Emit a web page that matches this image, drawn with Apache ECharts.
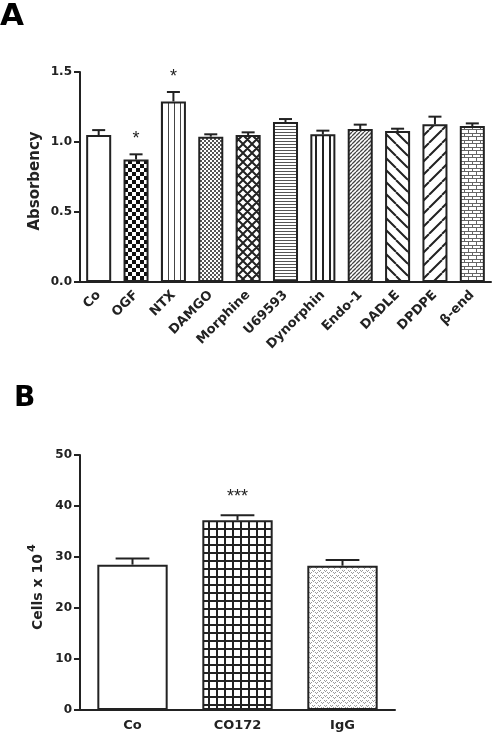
<!DOCTYPE html>
<html><head><meta charset="utf-8">
<script src="https://cdn.jsdelivr.net/npm/echarts@6/dist/echarts.min.js"></script>
<style>html,body{margin:0;padding:0;background:#fff}#c{width:492px;height:735px}</style>
</head><body><div id="c"></div>
<script>
// ---------- DATA ----------
const catsA = ['Co','OGF','NTX','DAMGO','Morphine','U69593','Dynorphin','Endo-1','DADLE','DPDPE','β-end'];
const valsA = [1.05, 0.875, 1.29, 1.038, 1.05, 1.143, 1.055, 1.093, 1.079, 1.126, 1.114];
const errA  = [0.035, 0.037, 0.067, 0.017, 0.019, 0.021, 0.026, 0.031, 0.016, 0.055, 0.019];
const sigA  = ['', '*', '*', '', '', '', '', '', '', '', ''];
const yTicksA = [0, 0.5, 1.0, 1.5];

const catsB = ['Co','CO172','IgG'];
const valsB = [28.5, 37.2, 28.3];
const errB  = [1.2, 1.0, 1.1];
const sigB  = ['', '***', ''];
const yTicksB = [0, 10, 20, 30, 40, 50];

// ---------- PATTERNS ----------
function tile(w,h,fn){const c=document.createElement('canvas');c.width=w;c.height=h;const g=c.getContext('2d');g.fillStyle='#fff';g.fillRect(0,0,w,h);fn(g,w,h);return {image:c,repeat:'repeat'};}
function diag(p,dir,lw,col){return tile(p,p,(g)=>{g.strokeStyle=col;g.lineWidth=lw;g.beginPath();for(let k=-1;k<=1;k++){if(dir==='/'){g.moveTo(k*p,p);g.lineTo(k*p+p,0);}else{g.moveTo(k*p,0);g.lineTo(k*p+p,p);}}g.stroke();});}
const P = {
  white: '#ffffff',
  checker: tile(8,8,g=>{g.fillStyle='#111';g.fillRect(0,0,4,4);g.fillRect(4,4,4,4);}),
  vthin: tile(6,4,g=>{g.fillStyle='#444';g.fillRect(0,0,1,4);}),
  fine: tile(4,4,g=>{g.fillStyle='#555';g.fillRect(0,0,2,2);g.fillRect(2,2,2,2);}),
  cross: tile(9,9,g=>{g.strokeStyle='#222';g.lineWidth=2;g.beginPath();for(let k=-1;k<=1;k++){g.moveTo(k*9,9);g.lineTo(k*9+9,0);g.moveTo(k*9,0);g.lineTo(k*9+9,9);}g.stroke();}),
  hlines: tile(4,3,g=>{g.fillStyle='#555';g.fillRect(0,0,4,1);}),
  vthick: tile(7,4,g=>{g.fillStyle='#222';g.fillRect(0,0,2,4);}),
  fdiagFine: diag(4,'/',1.3,'#444'),
  bdiag: diag(12,'\\',2,'#222'),
  fdiag: diag(13,'/',2,'#222'),
  brick: tile(8,7,g=>{g.fillStyle='#666';g.fillRect(0,0,8,1);g.fillRect(0,3,8,1);g.fillRect(0,0,1,3);g.fillRect(4,3,1,4);}),
  grid: tile(8,8,g=>{g.fillStyle='#222';g.fillRect(0,0,2,8);g.fillRect(0,0,8,2);}),
  dots: tile(6,5,g=>{g.fillStyle='#9a9a9a';g.fillRect(0,0,1,1);g.fillRect(2,0,1,1);g.fillRect(1,1,1,1);g.fillRect(3,2,1,1);g.fillRect(5,2,1,1);g.fillRect(4,3,1,1);})
};
const fillA = [P.white,P.checker,P.vthin,P.fine,P.cross,P.hlines,P.vthick,P.fdiagFine,P.bdiag,P.fdiag,P.brick];
const fillB = [P.white,P.grid,P.dots];

// ---------- HELPERS ----------
const FF = 'DejaVu Sans';
const INK = '#222';
function errRender(sig, capFrac, starOff, starSize){
  return function(params, api){
    const i = api.value(0), v = api.value(1), e = api.value(2);
    const p0 = api.coord([i, v]), p1 = api.coord([i, v + e]);
    const bw = api.size([1, 0])[0] * 0.67;
    const hc = bw * capFrac;
    const ch = [
      {type:'line', shape:{x1:p0[0],y1:p0[1],x2:p1[0],y2:p1[1]}, style:{stroke:INK,lineWidth:2}},
      {type:'line', shape:{x1:p1[0]-hc,y1:p1[1],x2:p1[0]+hc,y2:p1[1]}, style:{stroke:INK,lineWidth:2}}
    ];
    const s = sig[params.dataIndex];
    if (s) ch.push({type:'text', x:p1[0], y:p1[1]-starOff, style:{text:s, fill:INK, font:'normal '+starSize+'px "Liberation Sans", Arial', align:'center', verticalAlign:'middle'}});
    return {type:'group', children:ch};
  };
}
function axisY(gi, min, max, interval, fmt){
  return {type:'value', gridIndex:gi, min, max, interval,
    axisLine:{show:true, lineStyle:{color:INK,width:2}},
    axisTick:{show:true, length:6, lineStyle:{color:INK,width:2}},
    splitLine:{show:false},
    axisLabel:{color:INK, fontFamily:FF, fontWeight:'bold', fontSize:12, margin:8, formatter:fmt}};
}

const chart = echarts.init(document.getElementById('c'), null, {renderer:'canvas'});
chart.setOption({
  animation:false,
  backgroundColor:'#fff',
  grid:[
    {left:80, top:72, width:411, height:210},
    {left:80, top:455, width:315, height:255}
  ],
  xAxis:[
    {type:'category', gridIndex:0, data:catsA,
     axisLine:{lineStyle:{color:INK,width:2}},
     axisTick:{alignWithLabel:true, length:5, lineStyle:{color:INK,width:2}},
     axisLabel:{rotate:45, interval:0, color:INK, fontFamily:FF, fontWeight:'bold', fontSize:13, margin:11}},
    {type:'category', gridIndex:1, data:catsB,
     axisLine:{lineStyle:{color:INK,width:2}},
     axisTick:{alignWithLabel:true, length:4, lineStyle:{color:INK,width:2}},
     axisLabel:{interval:0, color:INK, fontFamily:FF, fontWeight:'bold', fontSize:13, margin:9}}
  ],
  yAxis:[
    axisY(0, yTicksA[0], yTicksA[yTicksA.length-1], yTicksA[1]-yTicksA[0], v=>v.toFixed(1)),
    axisY(1, yTicksB[0], yTicksB[yTicksB.length-1], yTicksB[1]-yTicksB[0], v=>String(v))
  ],
  series:[
    {type:'bar', xAxisIndex:0, yAxisIndex:0, barCategoryGap:'33%',
     data: valsA.map((v,i)=>({value:v, itemStyle:{color:fillA[i]}})),
     itemStyle:{borderColor:INK, borderWidth:2}},
    {type:'custom', xAxisIndex:0, yAxisIndex:0, z:5,
     data: valsA.map((v,i)=>[i, v, errA[i]]), encode:{x:0,y:1},
     renderItem: errRender(sigA, 0.26, 15, 18)},
    {type:'bar', xAxisIndex:1, yAxisIndex:1, barCategoryGap:'33%',
     data: valsB.map((v,i)=>({value:v, itemStyle:{color:fillB[i]}})),
     itemStyle:{borderColor:INK, borderWidth:2}},
    {type:'custom', xAxisIndex:1, yAxisIndex:1, z:5,
     data: valsB.map((v,i)=>[i, v, errB[i]]), encode:{x:0,y:1},
     renderItem: errRender(sigB, 0.24, 18, 18)}
  ],
  graphic:[
    {type:'text', x:0, y:17, style:{text:'A', fill:'#000', font:'bold 31px "DejaVu Sans"', align:'left', verticalAlign:'middle'}},
    {type:'text', x:14, y:399, style:{text:'B', fill:'#000', font:'bold 28px "DejaVu Sans"', align:'left', verticalAlign:'middle'}},
    {type:'text', x:35, y:181, rotation:Math.PI/2, style:{text:'Absorbency', fill:INK, font:'bold 15px "DejaVu Sans"', align:'center', verticalAlign:'middle'}},
    {type:'text', x:38, y:630, rotation:Math.PI/2, style:{text:'Cells x 10', fill:INK, font:'bold 14px "DejaVu Sans"', align:'left', verticalAlign:'middle'}},
    {type:'text', x:32, y:552, rotation:Math.PI/2, style:{text:'4', fill:INK, font:'bold 11px "DejaVu Sans"', align:'left', verticalAlign:'middle'}}
  ]
});
</script></body></html>
